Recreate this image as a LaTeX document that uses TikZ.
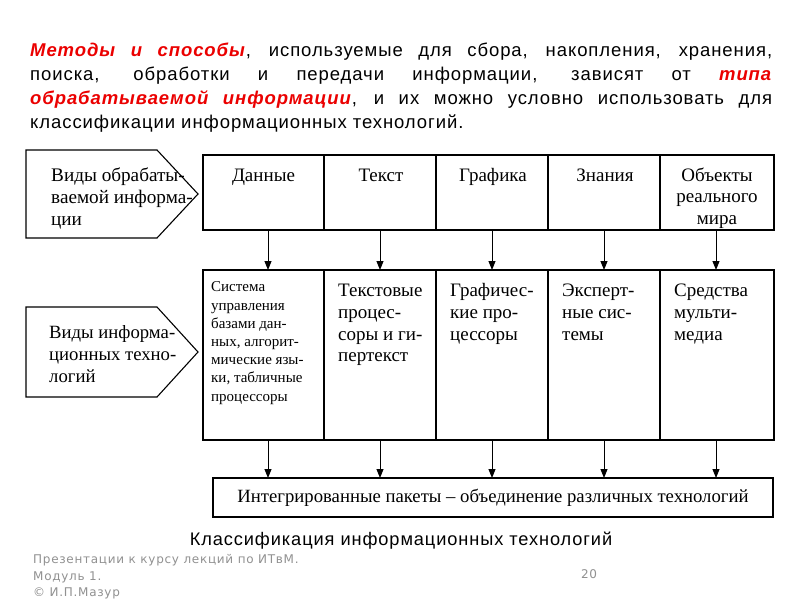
\documentclass[tikz,border=0pt]{standalone}
\usepackage{fontspec}
\setmainfont{Liberation Serif}
\newfontfamily\headfont[LetterSpace=5]{Liberation Sans}
\newfontfamily\footfont[LetterSpace=6]{DejaVu Sans}
\usetikzlibrary{arrows.meta}
\definecolor{hred}{RGB}{235,0,0}
\definecolor{fgray}{RGB}{145,145,145}
\tikzset{
  cell/.style={draw, line width=1.5pt, inner sep=0pt},
  celltext/.style={inner sep=0pt, align=center, font=\fontsize{19}{21.7}\selectfont, anchor=north},
  midtext/.style={inner sep=0pt, align=left, font=\fontsize{19}{21.7}\selectfont, anchor=north west},
  penta/.style={draw, line width=1.1pt},
  pentatext/.style={inner sep=0pt, align=left, font=\fontsize{19.2}{21.7}\selectfont, anchor=north west},
  arr/.style={line width=1pt, -{Triangle[length=9pt,width=7pt]}}
}
\begin{document}
\begin{tikzpicture}[x=1pt,y=-1pt]
\useasboundingbox[fill=white] (0,0) rectangle (800,600);
% heading
\node[anchor=north west, inner sep=0pt, text width=742pt, align=justify,
  font=\headfont\fontsize{18.5}{24}\selectfont] (head) at (30,39.2)
 {\strut\textcolor{hred}{\textbf{\textit{Методы и способы}}}, используемые для сбора, накопления, хранения,\linebreak поиска, обработки и передачи информации, зависят от \textcolor{hred}{\textbf{\textit{типа}}}\linebreak \textcolor{hred}{\textbf{\textit{обрабатываемой информации}}}, и~их можно условно использовать для\linebreak классификации информационных технологий.};
% left pentagons
\draw[penta] (26,150) -- (157,150) -- (198,194) -- (157,238) -- (26,238) -- cycle;
\node[pentatext] (p1) at (51,166.5) {\strut Виды обрабаты-\\ваемой информа-\\ции};
\draw[penta] (26,307) -- (157,307) -- (198,352) -- (157,397) -- (26,397) -- cycle;
\node[pentatext, font=\fontsize{18.7}{21.7}\selectfont] (p2) at (49,323.5) {\strut Виды информа-\\ционных техно-\\логий};
% top row
\node[cell, minimum width=121pt, minimum height=75pt] (t1) at (263.5,192.5) {};
\node[cell, minimum width=112pt, minimum height=75pt] (t2) at (380,192.5) {};
\node[cell, minimum width=112pt, minimum height=75pt] (t3) at (492,192.5) {};
\node[cell, minimum width=112pt, minimum height=75pt] (t4) at (604,192.5) {};
\node[cell, minimum width=114pt, minimum height=75pt] (t5) at (717,192.5) {};
\node[celltext] (tt1) at (263.5,165.8) {\strut Данные};
\node[celltext] (tt2) at (381,165.8) {\strut Текст};
\node[celltext] (tt3) at (493,165.8) {\strut Графика};
\node[celltext] (tt4) at (605,165.8) {\strut Знания};
\node[celltext] (tt5) at (717,165.8) {\strut Объекты\\реального\\мира};
% middle row
\node[cell, minimum width=121pt, minimum height=170pt] (m1) at (263.5,355) {};
\node[cell, minimum width=112pt, minimum height=170pt] (m2) at (380,355) {};
\node[cell, minimum width=112pt, minimum height=170pt] (m3) at (492,355) {};
\node[cell, minimum width=112pt, minimum height=170pt] (m4) at (604,355) {};
\node[cell, minimum width=114pt, minimum height=170pt] (m5) at (717,355) {};
\node[inner sep=0pt, align=left, anchor=north west, font=\fontsize{15}{18.2}\selectfont] (mt1) at (211,279)
 {\strut Система\\управления\\базами дан-\\ных, алгорит-\\мические язы-\\ки, табличные\\процессоры};
\node[midtext] (mt2) at (338,281.5) {\strut Текстовые\\процес-\\соры и ги-\\пертекст};
\node[midtext] (mt3) at (450,281.5) {\strut Графичес-\\кие про-\\цессоры};
\node[midtext] (mt4) at (562,281.5) {\strut Эксперт-\\ные сис-\\темы};
\node[midtext] (mt5) at (674,281.5) {\strut Средства\\мульти-\\медиа};
% bottom
\node[cell, minimum width=560pt, minimum height=39pt] (b) at (493,497.5)
 {\fontsize{18.7}{22}\selectfont Интегрированные пакеты – объединение различных технологий};
% arrows
\foreach \x/\i in {268/1,380/2,492/3,604/4,716/5}{
  \draw[arr] (\x,230) -- (\x,270);
  \draw[arr] (\x,440) -- (\x,478);
}
% caption
\node[inner sep=0pt, anchor=base, font=\headfont\fontsize{18.2}{22}\selectfont] (cap) at (401,545.5)
 {Классификация информационных технологий};
% footer
\node[inner sep=0pt, anchor=north west, align=left, text=fgray, font=\footfont\fontsize{12}{16.5}\selectfont] (foot) at (33,552)
 {\strut Презентации к курсу лекций по ИТвМ.\\Модуль 1.\\© И.П.Мазур};
\node[inner sep=0pt, text=fgray, font=\footfont\fontsize{12}{14}\selectfont] (num) at (589,574) {20};
\end{tikzpicture}
\end{document}
